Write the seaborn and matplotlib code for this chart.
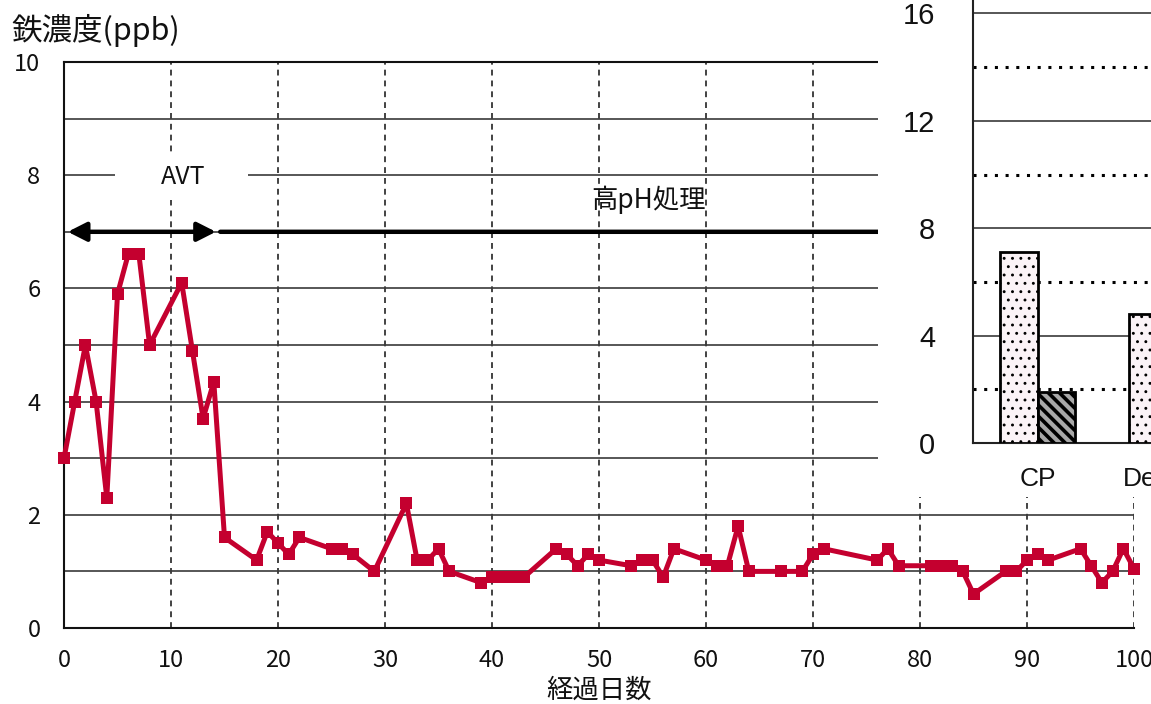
import numpy as np
import pandas as pd
import matplotlib
matplotlib.use("Agg")
import matplotlib.pyplot as plt
from matplotlib.patches import Rectangle
from matplotlib.ticker import MultipleLocator, FixedLocator
import seaborn as sns

# --- iron concentration time series (days vs ppb) ---
days = [0, 1, 2, 3, 4, 5, 6, 7, 8, 11, 12, 13, 14, 15, 18, 19, 20, 21, 22,
        25, 26, 27, 29, 32, 33, 34, 35, 36, 39, 40, 41, 42, 43, 46, 47, 48,
        49, 50, 53, 54, 55, 56, 57, 60, 61, 62, 63, 64, 67, 69, 70, 71, 76,
        77, 78, 81, 82, 83, 84, 85, 88, 89, 90, 91, 92, 95, 96, 97, 98, 99,
        100]
iron_ppb = [3.0, 4.0, 5.0, 4.0, 2.3, 5.9, 6.6, 6.6, 5.0, 6.1, 4.9, 3.7, 4.35,
            1.6, 1.2, 1.7, 1.5, 1.3, 1.6, 1.4, 1.4, 1.3, 1.0, 2.2, 1.2, 1.2,
            1.4, 1.0, 0.8, 0.9, 0.9, 0.9, 0.9, 1.4, 1.3, 1.1, 1.3, 1.2, 1.1,
            1.2, 1.2, 0.9, 1.4, 1.2, 1.1, 1.1, 1.8, 1.0, 1.0, 1.0, 1.3, 1.4,
            1.2, 1.4, 1.1, 1.1, 1.1, 1.1, 1.0, 0.6, 1.0, 1.0, 1.2, 1.3, 1.2,
            1.4, 1.1, 0.8, 1.0, 1.4, 1.05]

# --- comparison bars by sampling point ---
sites = ["CP", "De入口"]
avt_vals = [7.1, 4.8]
high_ph_vals = [1.9, np.nan]
groups = ["AVT", "高pH処理"]

x_ticks = list(range(0, 101, 10))
y_ticks = list(range(0, 11, 2))
inset_ticks = [0, 4, 8, 12, 16]

sns.set_style("white")
plt.rcParams["font.family"] = ["Noto Sans CJK JP", "DejaVu Sans"]
plt.rcParams["hatch.linewidth"] = 2.0
plt.rcParams["hatch.color"] = "black"

W, H = 1151, 704
fig = plt.figure(figsize=(W / 100, H / 100), dpi=100)
fig.patch.set_facecolor("white")

# main axes
ax = fig.add_axes([64 / W, 1 - 628 / H, (1134 - 64) / W, (628 - 62) / H])
ax.set_zorder(1)

sns.lineplot(x=days, y=iron_ppb, ax=ax, color="#c4002f", lw=3.6,
             marker="s", markersize=8, markeredgewidth=0, clip_on=False,
             zorder=3)

ax.set_xlim(0, 100)
ax.set_ylim(0, 10)
ax.xaxis.set_major_locator(FixedLocator(x_ticks))
ax.yaxis.set_major_locator(FixedLocator(y_ticks))
ax.yaxis.set_minor_locator(MultipleLocator(1))
ax.grid(axis="y", which="both", color="#3a3a3a", lw=1.2, ls="-")
ax.grid(axis="x", which="major", color="#222222", lw=1.2, ls=(0, (3.5, 3)))
ax.set_axisbelow(True)
ax.tick_params(axis="both", which="both", length=0)
ax.tick_params(axis="y", pad=17, labelsize=17, labelcolor="#111111")
ax.tick_params(axis="x", pad=15, labelsize=17, labelcolor="#111111")
for side in ["left", "bottom", "top"]:
    ax.spines[side].set_color("#111111")
    ax.spines[side].set_linewidth(1.5)
ax.spines["right"].set_visible(False)

ax.set_ylabel("鉄濃度(ppb)", rotation=0, ha="left", va="center", fontsize=22,
              color="#111111")
ax.yaxis.set_label_coords((11 - 64) / 1070, (628 - 30) / 566)
ax.set_xlabel("経過日数", fontsize=19, va="center", color="#111111")
ax.xaxis.set_label_coords(0.5, (628 - 690) / 566)

# period annotations
ax.add_patch(Rectangle((4.8, 7.56), 12.4, 0.8, facecolor="white",
                       edgecolor="none", zorder=2.5))
ax.text(11.1, 7.97, "AVT", ha="center", va="center", fontsize=18,
        color="#111111", zorder=4)
ax.text(54.6, 7.56, "高pH処理", ha="center", va="center", fontsize=19,
        color="#111111", zorder=4)
ax.annotate("", xy=(0.35, 7), xytext=(14.2, 7),
            arrowprops=dict(arrowstyle="<|-|>,head_length=0.75,head_width=0.38",
                            lw=3.2, color="black", mutation_scale=15,
                            shrinkA=0, shrinkB=0), zorder=4)
ax.annotate("", xy=(14.6, 7), xytext=(85, 7),
            arrowprops=dict(arrowstyle="<|-,head_length=0.75,head_width=0.38",
                            lw=3.2, color="black", mutation_scale=15,
                            shrinkA=0, shrinkB=0), zorder=4)

# white panel behind the inset chart
fig.add_artist(Rectangle((878 / W, 1 - 497 / H), 1 - 878 / W, 497 / H,
                         transform=fig.transFigure, facecolor="white",
                         edgecolor="none", zorder=2))

# inset bar chart
cat_px = 129
ax2 = fig.add_axes([973 / W, 1 - 443 / H, 2 * cat_px / W, 443 / H])
ax2.set_zorder(3)
ax2.set_facecolor("none")

bar_df = pd.DataFrame({
    "site": sites * 2,
    "group": [groups[0]] * len(sites) + [groups[1]] * len(sites),
    "value": avt_vals + high_ph_vals,
})
sns.barplot(data=bar_df, x="site", y="value", hue="group", order=sites,
            hue_order=groups, palette={groups[0]: "#fdf1f7", groups[1]: "#a8a8a8"},
            width=0.575, edgecolor="black", linewidth=2, ax=ax2, legend=False,
            zorder=3)
for container, hatch, hlw in zip(ax2.containers, ["..", "\\\\\\"], [0.9, 2.6]):
    for bar in container:
        bar.set_hatch(hatch)
        if hasattr(bar, "set_hatch_linewidth"):
            bar.set_hatch_linewidth(hlw)

ax2.set_xlim(-0.5, 1.5)
ax2.set_ylim(0, 443 / 26.85)
ax2.yaxis.set_major_locator(FixedLocator(inset_ticks))
ax2.yaxis.set_minor_locator(FixedLocator([2, 6, 10, 14]))
ax2.xaxis.set_minor_locator(FixedLocator([0.5]))
ax2.grid(axis="y", which="major", color="#3a3a3a", lw=1.2, ls="-")
ax2.grid(axis="y", which="minor", color="black", lw=2.2, ls=(0, (1, 2.5)))
ax2.set_axisbelow(True)
ax2.tick_params(axis="y", which="both", length=0, pad=27, labelsize=21,
                labelcolor="#111111")
ax2.tick_params(axis="x", which="major", length=0, pad=17, labelsize=19,
                labelcolor="#111111")
ax2.tick_params(axis="x", which="minor", direction="in", length=5, width=1.3,
                color="#222222")
for lab in ax2.get_xticklabels() + ax2.get_yticklabels():
    lab.set_family(["Liberation Sans", "Noto Sans CJK JP"])
ax2.set_xlabel("")
ax2.set_ylabel("")
for side in ["left", "bottom"]:
    ax2.spines[side].set_color("#222222")
    ax2.spines[side].set_linewidth(1.5)
ax2.spines["top"].set_visible(False)
ax2.spines["right"].set_visible(False)

fig.savefig("out.png", dpi=100)
